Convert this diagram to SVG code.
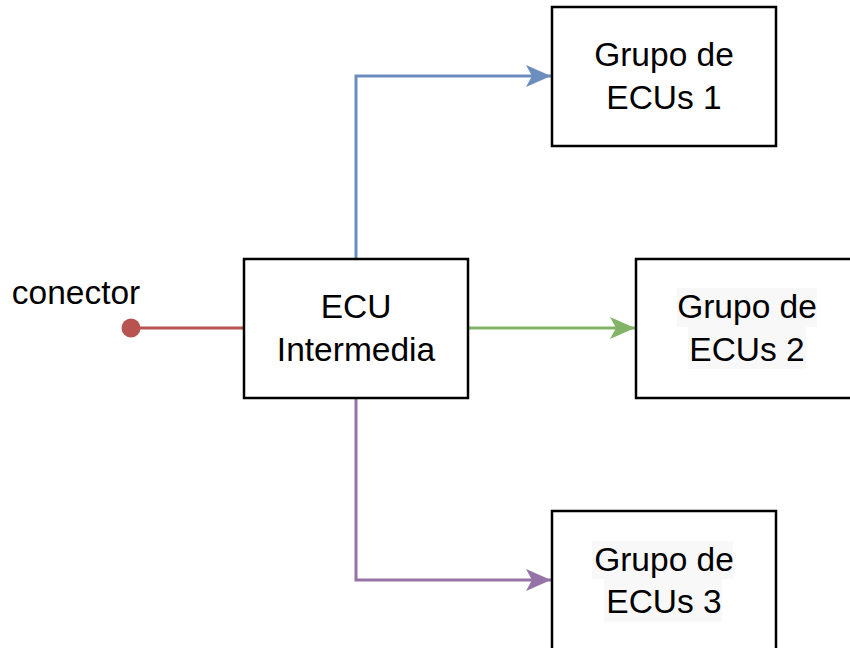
<svg xmlns="http://www.w3.org/2000/svg" width="850" height="648" viewBox="0 0 850 648">
<style>
.box{fill:#ffffff;stroke:#000000;stroke-width:2.5}
.lbl{font-family:"Liberation Sans",Arial,sans-serif;font-size:33.5px;fill:#000000;text-anchor:middle}
.hl{fill:#f8f8f8}
.edge{fill:none;stroke-width:3}
</style>
<defs>
<marker id="arrBlue" markerUnits="userSpaceOnUse" markerWidth="30" markerHeight="30" refX="26" refY="12" orient="auto" viewBox="0 0 30 24"><path d="M26,12 L1,1 L7,12 L1,23 Z" fill="#6c8ebf"/></marker>
<marker id="arrGreen" markerUnits="userSpaceOnUse" markerWidth="30" markerHeight="30" refX="26" refY="12" orient="auto" viewBox="0 0 30 24"><path d="M26,12 L1,1 L7,12 L1,23 Z" fill="#82b366"/></marker>
<marker id="arrPurple" markerUnits="userSpaceOnUse" markerWidth="30" markerHeight="30" refX="26" refY="12" orient="auto" viewBox="0 0 30 24"><path d="M26,12 L1,1 L7,12 L1,23 Z" fill="#9673a6"/></marker>
</defs>
<rect width="850" height="648" fill="#ffffff"/>
<g id="connectors">
<path class="edge" d="M140,328 L244,328" stroke="#b85450"/>
<circle cx="131" cy="328" r="9.5" fill="#b85450"/>
<path class="edge" d="M356,259 L356,76 L551,76" stroke="#6c8ebf" marker-end="url(#arrBlue)"/>
<path class="edge" d="M468,328 L635,328" stroke="#82b366" marker-end="url(#arrGreen)"/>
<path class="edge" d="M356,398 L356,580 L551,580" stroke="#9673a6" marker-end="url(#arrPurple)"/>
</g>
<g id="conector-label">
<text x="76" y="304" class="lbl">conector</text>
</g>
<g id="ecu-intermedia">
<rect class="box" x="244" y="259" width="224" height="139"/>
<text x="356" y="318" class="lbl">ECU</text>
<text x="356" y="361" class="lbl">Intermedia</text>
</g>
<g id="grupo1">
<rect class="box" x="552" y="7" width="224" height="139"/>
<text x="664" y="66" class="lbl">Grupo de</text>
<text x="664" y="109" class="lbl">ECUs 1</text>
</g>
<g id="grupo2">
<rect class="box" x="636" y="259" width="224" height="139"/>
<rect class="hl" x="677" y="288" width="140" height="39"/>
<rect class="hl" x="688" y="327" width="118" height="42"/>
<text x="747" y="318" class="lbl">Grupo de</text>
<text x="747" y="361" class="lbl">ECUs 2</text>
</g>
<g id="grupo3">
<rect class="box" x="552" y="511" width="224" height="141"/>
<rect class="hl" x="592" y="541" width="141" height="38"/>
<rect class="hl" x="604" y="579" width="118" height="43"/>
<text x="664" y="571" class="lbl">Grupo de</text>
<text x="664" y="613" class="lbl">ECUs 3</text>
</g>
</svg>
